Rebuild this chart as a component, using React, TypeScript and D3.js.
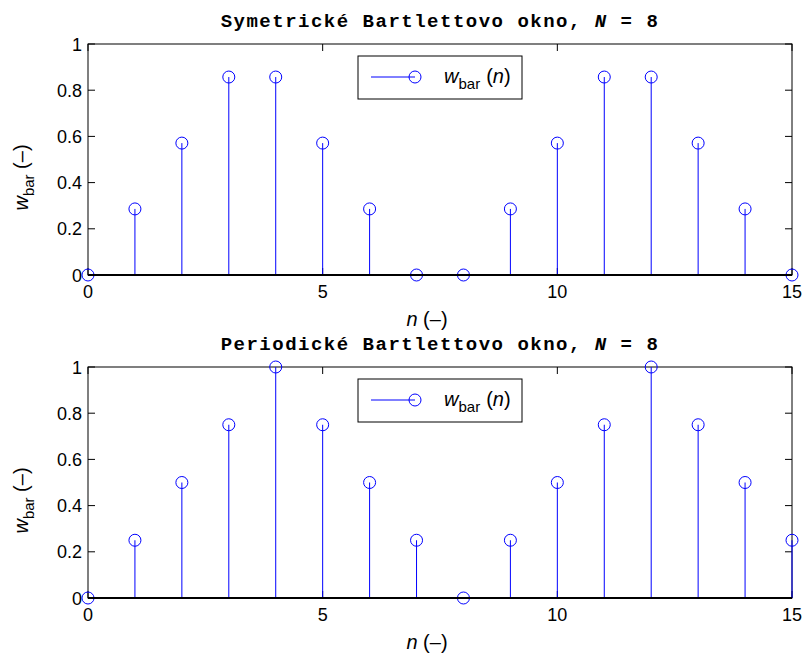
import React from "react";
import * as d3 from "d3";

const nValues = d3.range(0, 16);
const symValues = [0, 0.286, 0.571, 0.857, 0.857, 0.571, 0.286, 0, 0, 0.286, 0.571, 0.857, 0.857, 0.571, 0.286, 0];
const perValues = [0, 0.25, 0.5, 0.75, 1, 0.75, 0.5, 0.25, 0, 0.25, 0.5, 0.75, 1, 0.75, 0.5, 0.25];
const xTicks = [0, 5, 10, 15];
const yTicks = [0, 0.2, 0.4, 0.6, 0.8, 1];
const titles = ["Symetrické Bartlettovo okno, ", "Periodické Bartlettovo okno, "];

const W = 805, H = 655;
const left = 88, right = 792;
const panels = [
  { top: 44, bottom: 275, values: symValues, title: titles[0] },
  { top: 367, bottom: 598, values: perValues, title: titles[1] },
];
const BLUE = "#0000ff";
const SANS = "Liberation Sans, Arial, Helvetica, sans-serif";

function Panel({ top, bottom, values, title }: { top: number; bottom: number; values: number[]; title: string }) {
  const x = d3.scaleLinear().domain([0, 15]).range([left, right]);
  const y = d3.scaleLinear().domain([0, 1]).range([bottom, top]);
  const cx = (left + right) / 2;
  const tick = 7;
  return (
    <g>
      <text x={cx} y={top - 17} textAnchor="middle" fontFamily="Liberation Mono, Courier New, monospace" fontWeight="bold" fontSize={19} letterSpacing={1.5} fill="#000">
        {title}
        <tspan fontStyle="italic">N</tspan>
        {" = 8"}
      </text>
      {/* box */}
      <rect x={left} y={top} width={right - left} height={bottom - top} fill="none" stroke="#000" strokeWidth={1} />
      {/* ticks */}
      {xTicks.map((t) => (
        <g key={"x" + t}>
          <line x1={x(t)} x2={x(t)} y1={bottom} y2={bottom - tick} stroke="#000" />
          <line x1={x(t)} x2={x(t)} y1={top} y2={top + tick} stroke="#000" />
          <text x={x(t)} y={bottom + 23} textAnchor="middle" fontFamily={SANS} fontSize={18} fill="#000">{t}</text>
        </g>
      ))}
      {yTicks.map((t) => (
        <g key={"y" + t}>
          <line x1={left} x2={left + tick} y1={y(t)} y2={y(t)} stroke="#000" />
          <line x1={right} x2={right - tick} y1={y(t)} y2={y(t)} stroke="#000" />
          <text x={left - 6} y={y(t) + 6.5} textAnchor="end" fontFamily={SANS} fontSize={18} fill="#000">{String(t)}</text>
        </g>
      ))}
      {/* stems */}
      {nValues.map((n, i) => (
        <g key={"s" + n}>
          <line x1={x(n)} x2={x(n)} y1={y(0)} y2={y(values[i])} stroke={BLUE} strokeWidth={1} />
          <circle cx={x(n)} cy={y(values[i])} r={6} fill="none" stroke={BLUE} strokeWidth={1} />
        </g>
      ))}
      {/* baseline */}
      <line x1={left} x2={right} y1={bottom} y2={bottom} stroke="#000" strokeWidth={2} />
      {/* legend */}
      <g transform={`translate(358,${top + 12})`}>
        <rect x={0} y={0} width={164} height={43} fill="#fff" stroke="#000" strokeWidth={1} />
        <line x1={13} x2={57} y1={21} y2={21} stroke={BLUE} />
        <circle cx={57} cy={21} r={6} fill="none" stroke={BLUE} />
        <text x={86} y={27} fontFamily={SANS} fontSize={20} fill="#000">
          <tspan fontStyle="italic">w</tspan>
          <tspan fontSize={15} dy={6}>bar</tspan>
          <tspan dy={-6} dx={6}>(</tspan>
          <tspan fontStyle="italic">n</tspan>
          <tspan>)</tspan>
        </text>
      </g>
      {/* x label */}
      <text x={cx - 13} y={bottom + 51} textAnchor="middle" fontFamily={SANS} fontSize={20} fill="#000">
        <tspan fontStyle="italic">n</tspan>
        <tspan> (–)</tspan>
      </text>
      {/* y label */}
      <text transform={`translate(28,${(top + bottom) / 2 + 18}) rotate(-90)`} textAnchor="middle" fontFamily={SANS} fontSize={20} fill="#000">
        <tspan fontStyle="italic">w</tspan>
        <tspan fontSize={15} dy={6}>bar</tspan>
        <tspan dy={-6}> (–)</tspan>
      </text>
    </g>
  );
}

export default function App() {
  return (
    <svg width={W} height={H} style={{ position: "absolute", left: 0, top: 0, background: "#fff" }}>
      <rect width={W} height={H} fill="#fff" />
      {panels.map((p, i) => (
        <Panel key={i} {...p} />
      ))}
    </svg>
  );
}
